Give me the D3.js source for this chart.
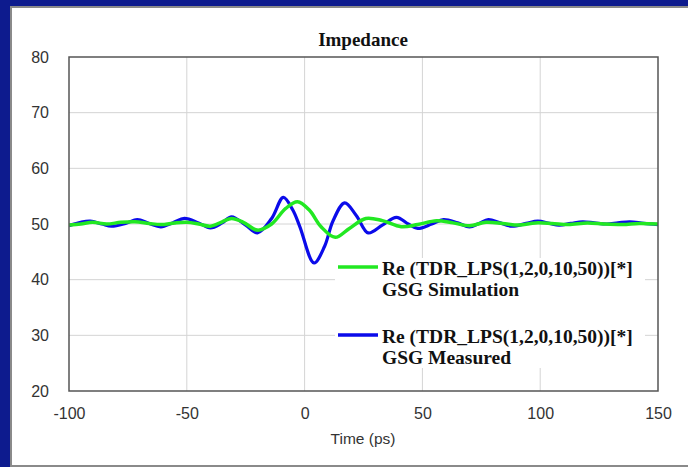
<!DOCTYPE html>
<html>
<head>
<meta charset="utf-8">
<script src="https://cdn.jsdelivr.net/npm/d3@7"></script>
<style>
  html, body { margin: 0; padding: 0; background: #ffffff; overflow: hidden; }
  svg { display: block; }
</style>
</head>
<body>
<svg id="chart" width="688" height="467"></svg>
<script>
// Time axis (ps) and impedance (ohm) samples for each trace
const simTime = [-100, -95, -90, -84, -78, -72, -66, -61, -55, -50, -45, -40, -35, -31, -26, -20, -14, -8, -3, 2, 7, 13, 19, 26, 33, 41, 48, 56, 63, 70, 77, 84, 91, 98, 105, 112, 120, 127, 135, 142, 150];
const simValue = [49.8, 50.0, 50.3, 50.0, 50.3, 50.4, 50.1, 49.9, 50.2, 50.3, 50.0, 49.6, 50.4, 51.0, 50.3, 48.9, 50.0, 52.8, 54.0, 52.5, 49.5, 47.6, 49.2, 51.0, 50.6, 49.5, 49.9, 50.6, 50.2, 49.7, 50.3, 50.1, 49.8, 50.2, 50.1, 49.9, 50.2, 50.0, 49.9, 50.1, 50.0];

const measTime = [-100, -95, -91, -86, -82, -76, -71, -66, -61, -56, -51, -45, -40, -35, -31, -25, -20, -14, -9, -5, -2, 4, 8.5, 12, 17, 22, 27, 33, 39, 44, 48, 54, 59, 65, 70, 74, 78, 83, 88, 94, 99, 104, 108, 113, 118, 123, 128, 133, 138, 144, 150];
const measValue = [49.7, 50.3, 50.5, 50.0, 49.6, 50.1, 50.8, 50.1, 49.5, 50.2, 51.0, 50.2, 49.3, 50.2, 51.3, 49.8, 48.4, 51.0, 54.8, 52.5, 49.5, 43.0, 46.0, 50.5, 53.8, 51.5, 48.4, 49.8, 51.2, 50.0, 49.2, 50.0, 50.8, 50.2, 49.5, 50.1, 50.8, 50.2, 49.6, 50.1, 50.5, 50.1, 49.8, 50.1, 50.4, 50.2, 50.0, 50.2, 50.4, 50.1, 49.9];

const xTicks = [-100, -50, 0, 50, 100, 150];
const yTicks = [20, 30, 40, 50, 60, 70, 80];

const titleText = "Impedance";
const xLabel = "Time (ps)";
const legendItems = [
  { name: "Re (TDR_LPS(1,2,0,10,50))[*]", sub: "GSG Simulation", color: "#22e822" },
  { name: "Re (TDR_LPS(1,2,0,10,50))[*]", sub: "GSG Measured", color: "#0b0bea" }
];

const svg = d3.select("#chart");

// Outer frame: blue background and white panel
svg.append("rect").attr("x", 0).attr("y", 0).attr("width", 688).attr("height", 467).attr("fill", "#0d1b8e");
svg.append("rect").attr("x", 11).attr("y", 7).attr("width", 700).attr("height", 459)
  .attr("fill", "#ffffff").attr("stroke", "#8a8a8a").attr("stroke-width", 2);

const plot = { left: 69, top: 57, right: 658, bottom: 391 };

const x = d3.scaleLinear().domain([-100, 150]).range([plot.left, plot.right]);
const y = d3.scaleLinear().domain([20, 80]).range([plot.bottom, plot.top]);

// Grid
const grid = svg.append("g");
grid.selectAll("line.gx").data(xTicks.slice(1, -1)).enter().append("line")
  .attr("x1", d => x(d)).attr("x2", d => x(d))
  .attr("y1", plot.top).attr("y2", plot.bottom)
  .attr("stroke", "#d4d4d4").attr("stroke-width", 1);
grid.selectAll("line.gy").data(yTicks.slice(1, -1)).enter().append("line")
  .attr("y1", d => y(d)).attr("y2", d => y(d))
  .attr("x1", plot.left).attr("x2", plot.right)
  .attr("stroke", "#d4d4d4").attr("stroke-width", 1);

// Axes (labels only; the frame is drawn separately)
const plain = d => String(d);
const xAxis = d3.axisBottom(x).tickValues(xTicks).tickFormat(plain).tickSize(0).tickPadding(0);
const gx = svg.append("g").attr("transform", `translate(0, ${plot.bottom + 17})`).call(xAxis);
gx.select(".domain").remove();
gx.selectAll("text").attr("font-family", "Liberation Sans, Arial, sans-serif")
  .attr("font-size", 16).attr("fill", "#333").attr("dy", "0.71em");

const yAxis = d3.axisLeft(y).tickValues(yTicks).tickFormat(plain).tickSize(0).tickPadding(0);
const gy = svg.append("g").attr("transform", `translate(${plot.left - 20}, 0)`).call(yAxis);
gy.select(".domain").remove();
gy.selectAll("text").attr("font-family", "Liberation Sans, Arial, sans-serif")
  .attr("font-size", 16).attr("fill", "#333");

// Title and axis label
svg.append("text").attr("x", 363).attr("y", 46).attr("text-anchor", "middle")
  .attr("font-family", "Liberation Serif, Times New Roman, serif").attr("font-weight", "bold")
  .attr("font-size", 19).attr("fill", "#111").text(titleText);
svg.append("text").attr("x", 363).attr("y", 444).attr("text-anchor", "middle")
  .attr("font-family", "Liberation Sans, Arial, sans-serif")
  .attr("font-size", 15.5).attr("fill", "#333").text(xLabel);

// Traces
const line = d3.line().x(d => x(d[0])).y(d => y(d[1])).curve(d3.curveCatmullRom.alpha(0.5));
const measData = measTime.map((t, i) => [t, measValue[i]]);
const simData = simTime.map((t, i) => [t, simValue[i]]);

svg.append("clipPath").attr("id", "plotClip").append("rect")
  .attr("x", plot.left).attr("y", plot.top)
  .attr("width", plot.right - plot.left).attr("height", plot.bottom - plot.top);

const traces = svg.append("g").attr("clip-path", "url(#plotClip)");
traces.append("path").datum(measData).attr("d", line)
  .attr("fill", "none").attr("stroke", legendItems[1].color).attr("stroke-width", 3.2)
  .attr("stroke-linejoin", "round");
traces.append("path").datum(simData).attr("d", line)
  .attr("fill", "none").attr("stroke", legendItems[0].color).attr("stroke-width", 3.5)
  .attr("stroke-linejoin", "round");

// Legend
const lg = svg.append("g");
lg.append("rect").attr("x", 335).attr("y", 258).attr("width", 310).attr("height", 110).attr("fill", "#ffffff");
legendItems.forEach((item, i) => {
  const top = 267 + i * 68;
  lg.append("line").attr("x1", 338).attr("x2", 378).attr("y1", top).attr("y2", top)
    .attr("stroke", item.color).attr("stroke-width", 3.5);
  lg.append("text").attr("x", 382).attr("y", top + 8)
    .attr("font-family", "Liberation Serif, Times New Roman, serif").attr("font-weight", "bold")
    .attr("font-size", 19.5).attr("fill", "#111").text(item.name);
  lg.append("text").attr("x", 382).attr("y", top + 29)
    .attr("font-family", "Liberation Serif, Times New Roman, serif").attr("font-weight", "bold")
    .attr("font-size", 19.5).attr("fill", "#111").text(item.sub);
});

// Plot frame
svg.append("rect").attr("x", plot.left).attr("y", plot.top)
  .attr("width", plot.right - plot.left).attr("height", plot.bottom - plot.top)
  .attr("fill", "none").attr("stroke", "#555").attr("stroke-width", 1.5);
</script>
</body>
</html>
